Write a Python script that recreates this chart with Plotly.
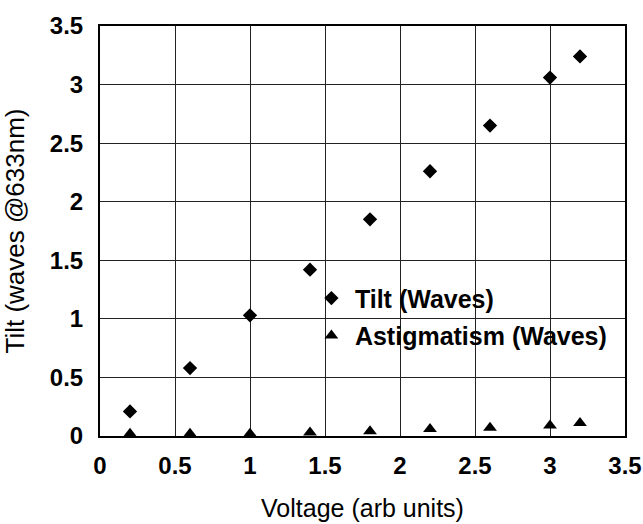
import plotly.graph_objects as go

voltage = [0.2, 0.6, 1.0, 1.4, 1.8, 2.2, 2.6, 3.0, 3.2]
tilt = [0.21, 0.58, 1.03, 1.42, 1.85, 2.26, 2.65, 3.06, 3.24]
astig = [0.02, 0.02, 0.02, 0.03, 0.04, 0.06, 0.07, 0.09, 0.11]
tick_vals = [0, 0.5, 1, 1.5, 2, 2.5, 3, 3.5]
tick_text = ["0", "0.5", "1", "1.5", "2", "2.5", "3", "3.5"]

fig = go.Figure()
fig.add_trace(go.Scatter(x=voltage, y=tilt, mode="markers", name="Tilt (Waves)",
                         legendgroup="a",
                         marker=dict(symbol="diamond", size=11, color="black")))
fig.add_trace(go.Scatter(x=voltage, y=astig, mode="markers", name="Astigmatism (Waves)",
                         legendgroup="b",
                         marker=dict(symbol="triangle-up", size=12, color="black")))

font = "Liberation Sans, Arial, sans-serif"
axis_common = dict(showgrid=True, gridcolor="#222", gridwidth=1.3, showline=True,
                   linecolor="black", linewidth=2, mirror=True, zeroline=False,
                   tickvals=tick_vals, ticktext=tick_text, range=[0, 3.5],
                   tickfont=dict(family=font, size=24, color="black", weight="bold"),
                   ticks="", automargin=False)
fig.update_layout(
    width=643, height=524,
    margin=dict(l=100, r=18, t=26, b=88),
    paper_bgcolor="white", plot_bgcolor="white",
    font=dict(family=font, color="black"),
    showlegend=True,
    legend=dict(x=0.396, y=0.392, xanchor="left", yanchor="top", bgcolor="rgba(0,0,0,0)",
                font=dict(family=font, size=25, color="black", weight="bold"),
                itemwidth=37, tracegroupgap=2, traceorder="grouped"),
    xaxis=dict(axis_common, ticklabelstandoff=7,
               title=dict(text="Voltage (arb units)", font=dict(size=25), standoff=22)),
    yaxis=dict(axis_common, ticklabelstandoff=10,
               title=dict(text="Tilt (waves @633nm)", font=dict(size=26), standoff=18)),
)
fig.write_html("out.html", config={"displayModeBar": False},
               post_script="document.body.style.margin='0';")
